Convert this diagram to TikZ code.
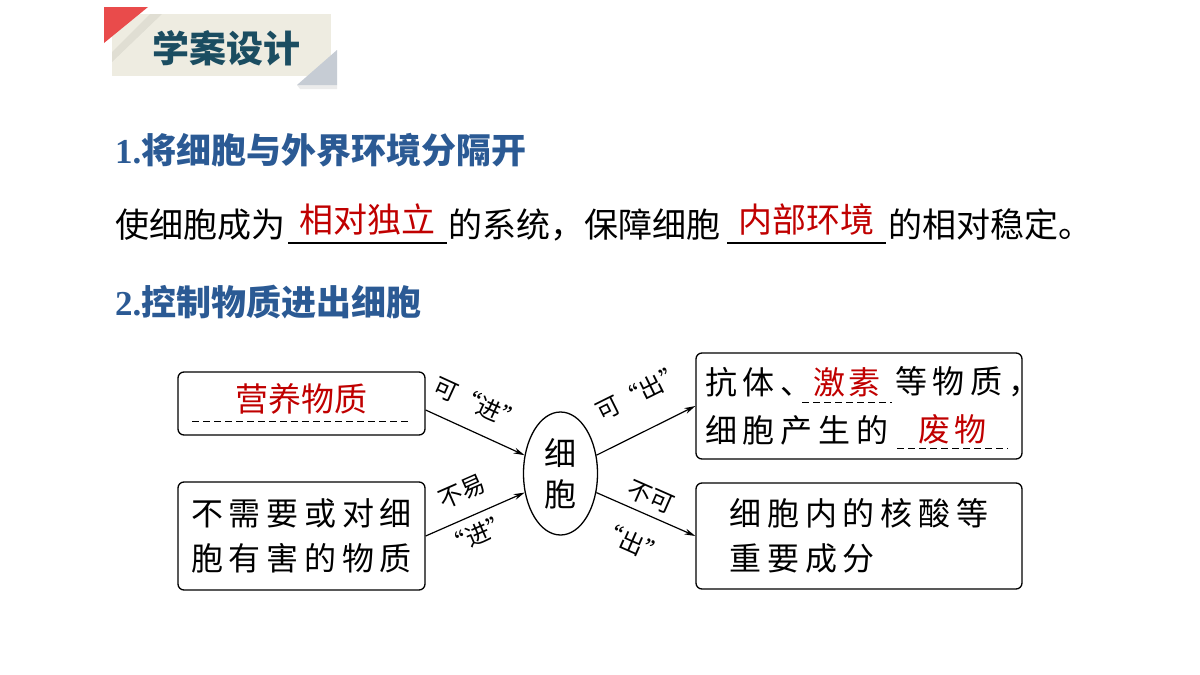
\documentclass[tikz,border=0pt]{standalone}
\usepackage{fontspec}
\setmainfont{Noto Sans CJK SC}
\newfontfamily\diagfont[LetterSpace=18]{Noto Sans CJK SC}
\newfontfamily\redfont[LetterSpace=10]{Noto Sans CJK SC}
\newfontfamily\labfont[RawFeature=+fwid]{Noto Sans CJK SC}
\newfontfamily\numfont{Liberation Serif}
\definecolor{headblue}{HTML}{2B5A94}
\definecolor{ansred}{HTML}{C00000}
\definecolor{titleteal}{HTML}{1B4D61}
\definecolor{bannerbeige}{HTML}{EEECE1}
\definecolor{bannerred}{HTML}{E94B4B}
\definecolor{bannergray}{HTML}{C6CCD4}
\usetikzlibrary{shapes.geometric,arrows.meta}

\begin{document}
\begin{tikzpicture}[x=1pt,y=-1pt,
  head/.style={inner sep=0pt,text=headblue,font=\bfseries\fontsize{35}{35}\selectfont},
  body/.style={inner sep=0pt,font=\fontsize{34}{34}\selectfont},
  ans/.style={inner sep=0pt,text=ansred},
  box/.style={draw,line width=1.3pt,rounded corners=6pt,inner sep=0pt},
  txt/.style={inner sep=0pt,font=\diagfont\fontsize{32}{45}\selectfont},
  arr/.style={line width=1.2pt,-{Stealth[length=11pt,width=6pt]}},
  lab/.style={inner sep=0pt,sloped,font=\labfont\fontsize{24}{24}\selectfont},
  blank/.style={line width=1.3pt},
  dashblank/.style={line width=0.8pt,dash pattern=on 7pt off 4pt}]
  \fill[white] (0,0) rectangle (1200,675);
  \useasboundingbox (0,0) rectangle (1200,675);
  % banner
  \fill[bannerbeige] (112,14) rectangle (331,76);
  \fill[black,opacity=.06] (112,52) -- (150,14) -- (162,14) -- (112,62) -- cycle;
  \fill[bannerred] (104,7) -- (148,7) -- (104,43) -- cycle;
  \fill[black,opacity=.08] (297,85) -- (337,85) -- (337,89) -- (300,89) -- cycle;
  \fill[bannergray] (337,50) -- (337,85) -- (297,85) -- cycle;
  \node[inner sep=0pt,text=titleteal,font=\bfseries\fontsize{37}{37}\selectfont] (title) at (226,48) {学案设计};
  % part 1
  \node[head,anchor=west] (sec1) at (115,150) {{\numfont 1.}将细胞与外界环境分隔开};
  \node[body,anchor=west] (l1) at (115,225) {使细胞成为};
  \coordinate (u1a) at (288,243);
  \coordinate (u1b) at (447,243);
  \draw[blank] (u1a) -- node[ans,body,above=7pt] (a1) {相对独立} (u1b);
  \node[body,anchor=west] (l2) at (448,225) {的系统，保障细胞};
  \coordinate (u2a) at (727,243);
  \coordinate (u2b) at (886,243);
  \draw[blank] (u2a) -- node[ans,body,above=7pt] (a2) {内部环境} (u2b);
  \node[body,anchor=west] (l3) at (888,225) {的相对稳定。};
  % part 2
  \node[head,anchor=west] (sec2) at (115,302) {{\numfont 2.}控制物质进出细胞};
  \node[box,minimum width=247pt,minimum height=63pt] (boxA) at (301.5,403.5) {};
  \coordinate (da) at (192,421);
  \coordinate (db) at (410,421);
  \draw[dashblank] (da) -- node[ans,font=\fontsize{33}{33}\selectfont,above=6pt] (food) {营养物质} (db);
  \node[box,txt,minimum width=247pt,minimum height=108pt,align=center] (boxB) at (301.5,536) {不需要或对细\\胞有害的物质};
  \node[draw,ellipse,line width=1.3pt,inner sep=0pt,minimum width=74pt,minimum height=123pt,
    align=center,font=\fontsize{32}{41}\selectfont] (cell) at (560.5,473.5) {细\\胞};
  \node[box,minimum width=326pt,minimum height=106pt] (boxC) at (859,406) {};
  \node[txt,anchor=west] (c1) at (705,382) {抗体、};
  \coordinate (ja) at (802,402);
  \coordinate (jb) at (892,402);
  \draw[dashblank] (ja) -- node[ans,font=\redfont\fontsize{32}{32}\selectfont,above=5pt] (hormone) {激素} (jb);
  \node[txt,anchor=west] (c2) at (895,382) {等物质，};
  \node[txt,anchor=west] (c3) at (705,430) {细胞产生的};
  \coordinate (wa) at (897,448);
  \coordinate (wb) at (1008,448);
  \draw[dashblank] (wa) -- node[ans,font=\redfont\fontsize{32}{32}\selectfont,above=3pt] (waste) {废物} (wb);
  \node[box,txt,minimum width=326pt,minimum height=106pt,align=left] (boxD) at (859,536) {细胞内的核酸等\\重要成分};
  % in and out
  \draw[arr] (boxA.-3) -- (cell.153) node[lab,pos=.42,above=16pt] (in1) {可“进”};
  \draw[arr] (boxB.east) -- (cell.208) node[lab,pos=.47,above=15pt] (in2a) {不易}
    node[lab,pos=.45,below=8pt] (in2b) {“进”};
  \draw[arr] (cell.27) -- (boxC.west) node[lab,pos=.61,above=25pt] (out1) {可“出”};
  \draw[arr] (cell.332) -- (boxD.west) node[lab,pos=.48,above=7pt] (out2a) {不可}
    node[lab,pos=.49,below=20pt] (out2b) {“出”};
\end{tikzpicture}
\end{document}
